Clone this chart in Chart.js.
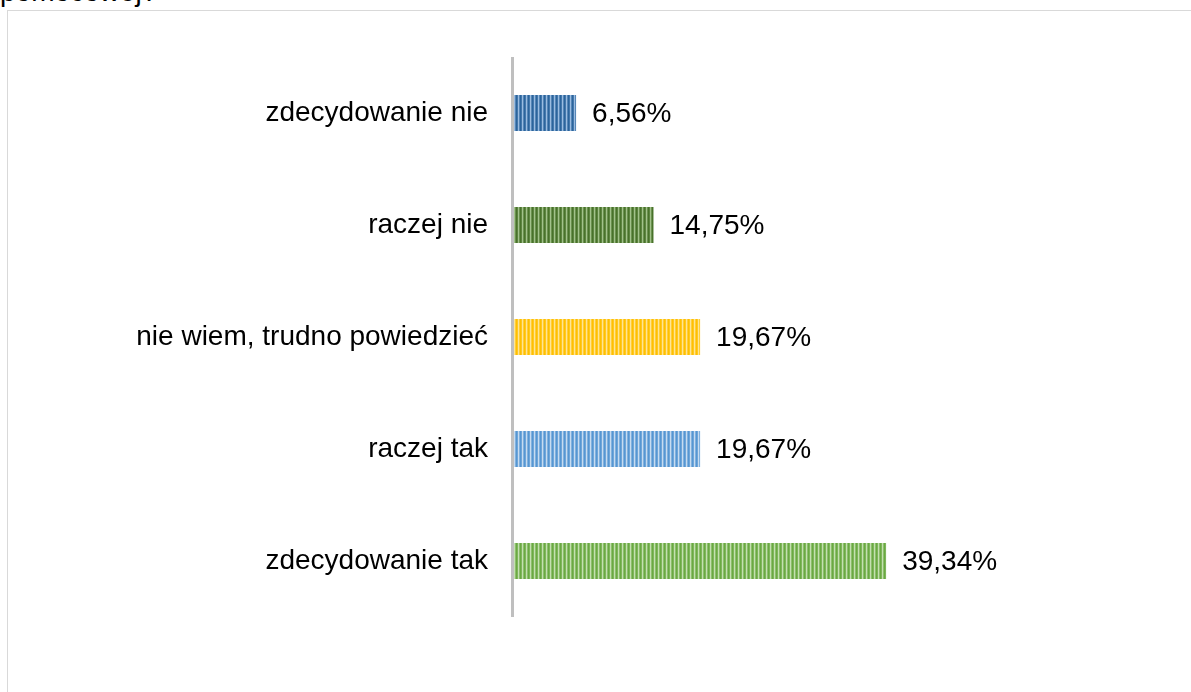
<!DOCTYPE html>
<html>
<head>
<meta charset="utf-8">
<script src="https://cdn.jsdelivr.net/npm/chart.js@4/dist/chart.umd.min.js"></script>
<style>
  html, body { margin: 0; padding: 0; background: #fff; overflow: hidden; }
  #title { position: absolute; left: 0; top: -22px; font: 28px "Liberation Sans", Arial, sans-serif; line-height: 28px; color: #000; white-space: nowrap; }
  #box { position: absolute; left: 7px; top: 10px; width: 1300px; height: 800px; border-left: 1px solid #d9d9d9; border-top: 1px solid #d9d9d9; }
  #myChart { position: absolute; left: 0; top: 0; }
</style>
</head>
<body>
<div id="title">pomocowej?</div>
<div id="box"></div>
<canvas id="myChart" width="1191" height="692"></canvas>
<script>
// answers, top to bottom as drawn
const categories = ["zdecydowanie nie", "raczej nie", "nie wiem, trudno powiedzieć", "raczej tak", "zdecydowanie tak"];
const percentValues = [6.56, 14.75, 19.67, 19.67, 39.34];
const valueLabels = ["6,56%", "14,75%", "19,67%", "19,67%", "39,34%"];
// [dark stripe, light stripe] for each bar
const barColors = [
  ["#2b649c", "#a3c3e6"],
  ["#48722a", "#a9c892"],
  ["#ffbf00", "#ffe8a0"],
  ["#5596d2", "#cfe1f3"],
  ["#6aa942", "#cbe4b9"],
];

const FONT = "'Liberation Sans', Arial, sans-serif";

//Excel-like narrow vertical stripes, built as a small repeating canvas
function stripePattern(dark, light) {
  const c = document.createElement("canvas");
  c.width = 4;
  c.height = 4;
  const g = c.getContext("2d");
  const grad = g.createLinearGradient(0, 0, 4, 0);
  grad.addColorStop(0, dark);
  grad.addColorStop(0.3, dark);
  grad.addColorStop(0.65, light);
  grad.addColorStop(1, dark);
  g.fillStyle = grad;
  g.fillRect(0, 0, 4, 4);
  return g.createPattern(c, "repeat");
}

const patterns = barColors.map((c) => stripePattern(c[0], c[1]));

//value labels to the right of each bar + grey axis line over the bars' left edge
const extras = {
  id: "extras",
  afterDatasetsDraw(chart) {
    const ctx = chart.ctx;
    const area = chart.chartArea;
    ctx.save();
    ctx.fillStyle = "#bfbfbf";
    ctx.fillRect(area.left - 3, area.top, 3, area.bottom - area.top);
    ctx.font = "28px " + FONT;
    ctx.fillStyle = "#000";
    ctx.textBaseline = "middle";
    ctx.textAlign = "left";
    chart.getDatasetMeta(0).data.forEach((bar, i) => {
      ctx.fillText(valueLabels[i], bar.x + 16, bar.y + 1);
    });
    ctx.restore();
  },
};

new Chart("myChart", {
  type: "bar",
  data: {
    labels: categories,
    datasets: [
      {
        data: percentValues,
        backgroundColor: patterns,
        borderWidth: 0,
        categoryPercentage: 1,
        barPercentage: 0.32,
      },
    ],
  },
  options: {
    indexAxis: "y",
    responsive: false,
    animation: false,
    events: [],
    layout: { padding: { left: 0, top: 57, bottom: 75, right: 204 } },
    plugins: { legend: { display: false }, tooltip: { enabled: false } },
    scales: {
      x: { display: false, min: 0, max: 50 },
      y: {
        afterFit(scale) {
          scale.width = 514;
        },
        grid: { display: false, drawTicks: false },
        border: { display: false },
        ticks: {
          padding: 26,
          color: "#000",
          font: { family: FONT, size: 28 },
        },
      },
    },
  },
  plugins: [extras],
});
</script>
</body>
</html>
